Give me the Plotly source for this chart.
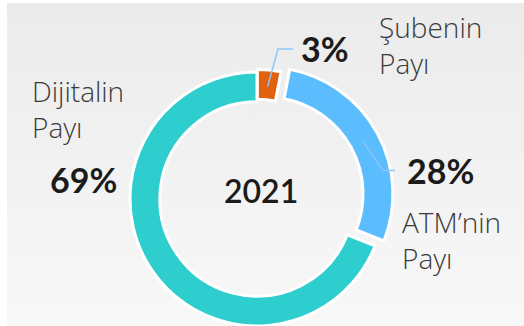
import math
import plotly.graph_objects as go

# Share of transactions by channel, 2021
labels = ["Şubenin Payı", "ATM’nin Payı", "Dijitalin Payı"]
name_lines = [["Şubenin", "Payı"], ["ATM’nin", "Payı"], ["Dijitalin", "Payı"]]
shares = [3, 28, 69]
year = "2021"

colors = ["#E0620F", "#5BBCFE", "#2FCECE"]
pulls = [0.02, 0.08, 0.0]

W, H = 524, 326
CX, CY = 257, 199          # ring centre (px from top-left)
R = 127                    # outer radius (px)
HOLE = 0.765

FONT = "Lato"
NAME_FONT = "Open Sans"
TEXT_DARK = "#1b1b1b"
TEXT_NAME = "#3a3a3a"
CONNECTOR = "#8cc6f7"


def px(x):
    return x / W


def py(y):
    return 1 - y / H


fig = go.Figure()

# light-grey panel with a soft vertical gradient
fig.add_trace(go.Scatter(
    x=[px(7), 1, 1, px(7), px(7)],
    y=[py(3), py(3), 0, 0, py(3)],
    fill="toself", mode="none",
    fillgradient=dict(type="vertical",
                      colorscale=[[0, "#f8f8f8"], [1, "#ebebeb"]]),
    hoverinfo="skip", showlegend=False,
))

# one pie trace per slice so each slice can be offset on its own
total = sum(shares)
acc = 0
mids, centres = [], []
for i, v in enumerate(shares):
    mid = (acc + v / 2) / total * 2 * math.pi
    acc += v
    off = pulls[i] * R
    cx = CX + off * math.sin(mid)
    cy = CY - off * math.cos(mid)
    mids.append(mid)
    centres.append((cx, cy))
    fig.add_trace(go.Pie(
        values=shares, labels=labels, sort=False,
        direction="clockwise", rotation=0, hole=HOLE,
        marker=dict(
            colors=[c if j == i else "rgba(0,0,0,0)" for j, c in enumerate(colors)],
            line=dict(color=["#ffffff" if j == i else "rgba(0,0,0,0)"
                             for j in range(len(shares))], width=3),
        ),
        textinfo="none", hoverinfo="label+percent",
        domain=dict(x=[px(cx - R), px(cx + R)],
                    y=[max(0, py(cy + R)), py(cy - R)]),
        showlegend=False,
    ))

# label placement: percentage centre (x, y) and name block (left x, middle y)
pct_pos = [(325, 48.5), (440, 170), (83.5, 179)]
name_pos = [(377, 44.5), (400, 240), (30, 109)]
# connector: horizontal run length and gap before the percentage text
conn = {0: (15, 7), 1: (12, 10)}

annotations = []
for i, v in enumerate(shares):
    x, y = pct_pos[i]
    annotations.append(dict(
        x=px(x), y=py(y), xref="paper", yref="paper",
        text=f"{v}%", showarrow=False, xanchor="center", yanchor="middle",
        font=dict(family=FONT, size=34, color=TEXT_DARK, weight=700),
    ))
    lx, ly = name_pos[i]
    annotations.append(dict(
        x=px(lx), y=py(ly), xref="paper", yref="paper",
        text="<br>".join(name_lines[i]), showarrow=False, align="left",
        xanchor="left", yanchor="middle",
        font=dict(family=NAME_FONT, size=28, color=TEXT_NAME, weight=300),
    ))

annotations.append(dict(
    x=px(261), y=py(190), xref="paper", yref="paper",
    text=year, showarrow=False, xanchor="center", yanchor="middle",
    font=dict(family=FONT, size=32, color=TEXT_DARK, weight=600),
))

shapes = []
pct_width = {0: 50, 1: 70}
for i, (run, gap) in conn.items():
    cx, cy = centres[i]
    r0 = 0.87 * R
    x0 = cx + r0 * math.sin(mids[i])
    y0 = cy - r0 * math.cos(mids[i])
    tx, ty = pct_pos[i]
    x2 = tx - pct_width[i] / 2 - gap
    y2 = ty + 0.5
    x1 = x2 - run
    path = (f"M {px(x0)},{py(y0)} L {px(x1)},{py(y2)} "
            f"L {px(x2)},{py(y2)}")
    shapes.append(dict(type="path", path=path, xref="paper", yref="paper",
                       line=dict(color=CONNECTOR, width=1.5), layer="above"))

fig.update_layout(
    width=W, height=H,
    margin=dict(l=0, r=0, t=0, b=0),
    paper_bgcolor="#ffffff", plot_bgcolor="rgba(0,0,0,0)",
    xaxis=dict(range=[0, 1], visible=False, fixedrange=True),
    yaxis=dict(range=[0, 1], visible=False, fixedrange=True),
    annotations=annotations, shapes=shapes,
    showlegend=False,
)

fig.write_html("out.html")
